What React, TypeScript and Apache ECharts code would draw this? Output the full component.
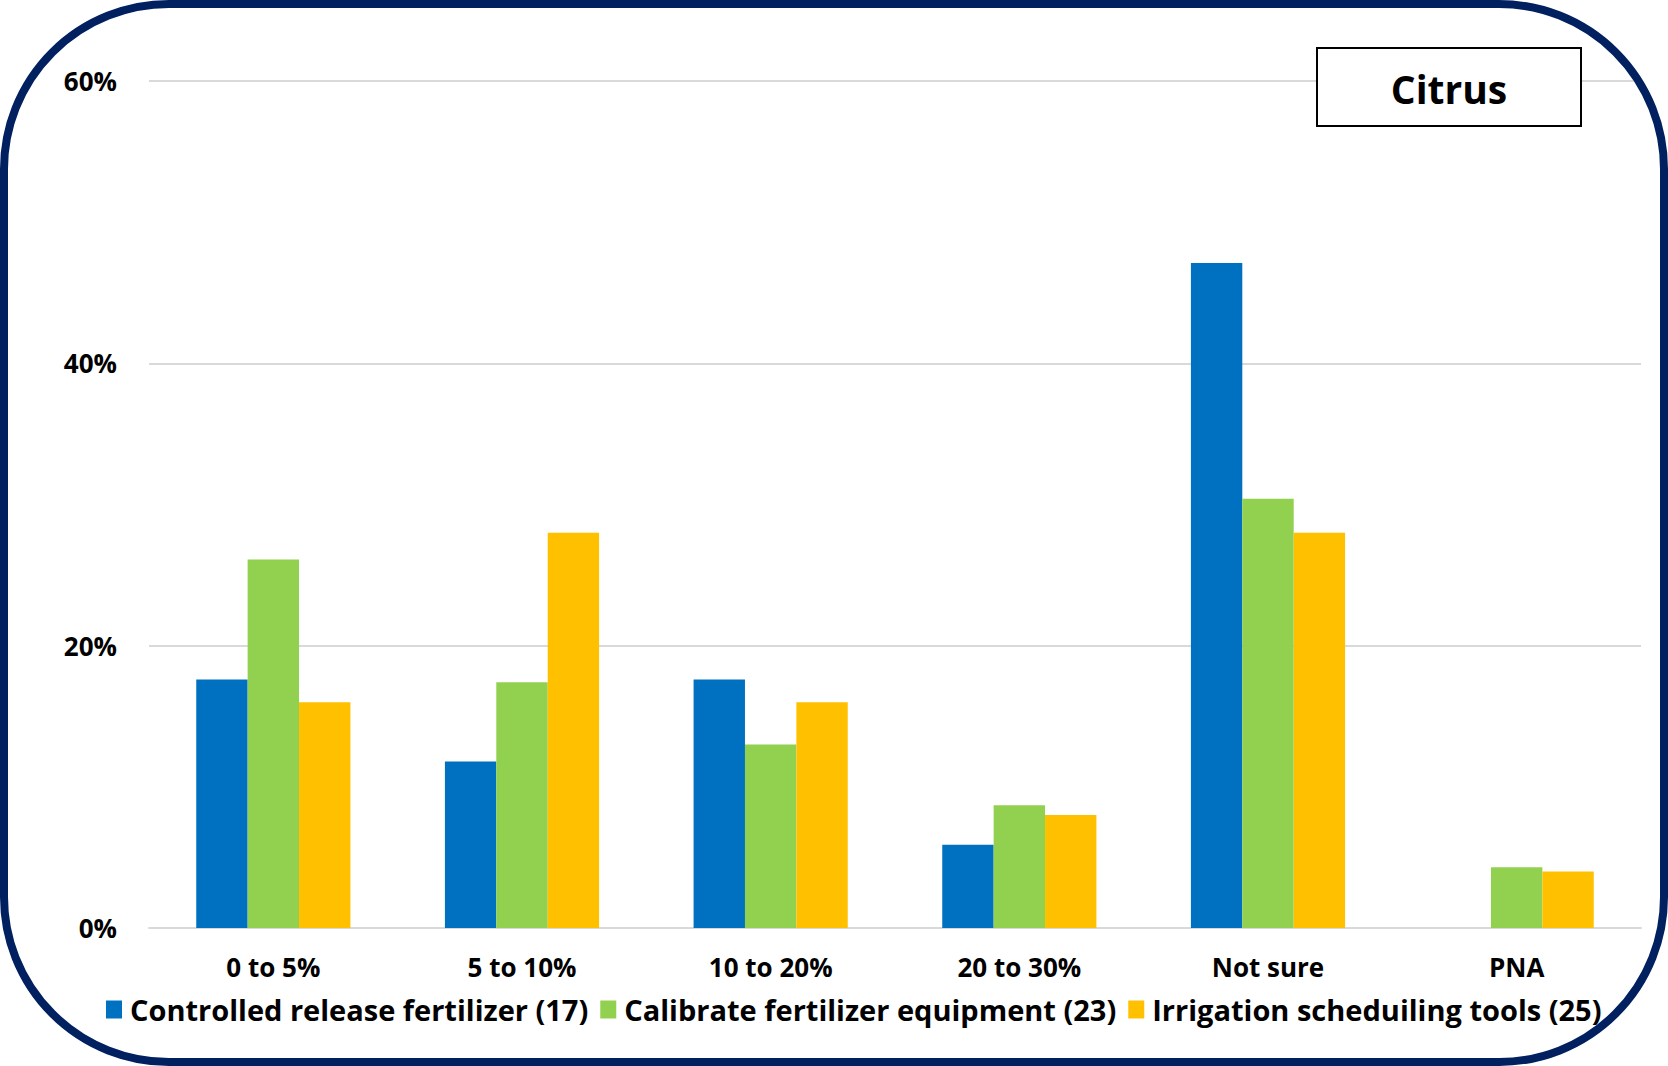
import React, { useEffect, useRef } from "react";
import * as echarts from "echarts";

// Share of respondents (%) by expected savings band
const categories = ["0 to 5%", "5 to 10%", "10 to 20%", "20 to 30%", "Not sure", "PNA"];
const controlledRelease = [17.6, 11.8, 17.6, 5.9, 47.1, 0];
const calibrateEquipment = [26.1, 17.4, 13.0, 8.7, 30.4, 4.3];
const irrigationTools = [16.0, 28.0, 16.0, 8.0, 28.0, 4.0];
const seriesNames = [
  "Controlled release fertilizer (17)",
  "Calibrate fertilizer equipment (23)",
  "Irrigation scheduiling tools (25)",
];
const seriesColors = ["#0070C0", "#92D050", "#FFC000"];
const yTicks = { min: 0, max: 60, interval: 20 };

const FONT = "'Open Sans', Lato, sans-serif";

export default function App() {
  const ref = useRef<HTMLDivElement>(null);

  useEffect(() => {
    document.body.style.margin = "0";
    if (!ref.current) return;
    const chart = echarts.init(ref.current, undefined, { renderer: "svg" });
    const data = [controlledRelease, calibrateEquipment, irrigationTools];
    chart.setOption({
      animation: false,
      backgroundColor: "#ffffff",
      textStyle: { fontFamily: FONT },
      grid: { left: 149, right: 27, top: 81, bottom: 138 },
      legend: {
        bottom: 37,
        left: 101,
        padding: 5,
        itemWidth: 16,
        itemHeight: 18,
        itemGap: 12,
        icon: "rect",
        textStyle: { fontFamily: FONT, fontWeight: "bold", fontSize: 29, color: "#000", padding: [0, 0, 0, 3] },
        data: seriesNames,
      },
      xAxis: {
        type: "category",
        data: categories,
        axisTick: { show: false },
        axisLine: { lineStyle: { color: "#d9d9d9", width: 2 } },
        axisLabel: { margin: 26, fontFamily: FONT, fontWeight: "bold", fontSize: 26, color: "#000" },
      },
      yAxis: {
        type: "value",
        min: yTicks.min,
        max: yTicks.max,
        interval: yTicks.interval,
        axisLine: { show: false },
        axisTick: { show: false },
        splitLine: { lineStyle: { color: "#d9d9d9", width: 2 } },
        axisLabel: {
          margin: 32,
          formatter: "{value}%",
          fontFamily: FONT,
          fontWeight: "bold",
          fontSize: 26,
          color: "#000",
        },
      },
      series: seriesNames.map((name, i) => ({
        name,
        type: "bar",
        data: data[i],
        barGap: "0%",
        barCategoryGap: "38%",
        itemStyle: { color: seriesColors[i] },
      })),
      graphic: [
        {
          type: "rect",
          z: 100,
          shape: { x: 4, y: 4, width: 1660, height: 1058, r: 165 },
          style: { fill: "none", stroke: "#002060", lineWidth: 8 },
        },
        {
          type: "rect",
          z: 100,
          shape: { x: 1317, y: 48, width: 264, height: 78 },
          style: { fill: "#ffffff", stroke: "#000000", lineWidth: 2 },
        },
        {
          type: "text",
          z: 101,
          x: 1449,
          y: 88,
          style: {
            text: "Citrus",
            fontFamily: FONT,
            fontWeight: "bold",
            fontSize: 39,
            fill: "#000",
            align: "center",
            verticalAlign: "middle",
          },
        },
      ],
    });
    return () => chart.dispose();
  }, []);

  return <div ref={ref} style={{ width: 1668, height: 1066 }} />;
}
